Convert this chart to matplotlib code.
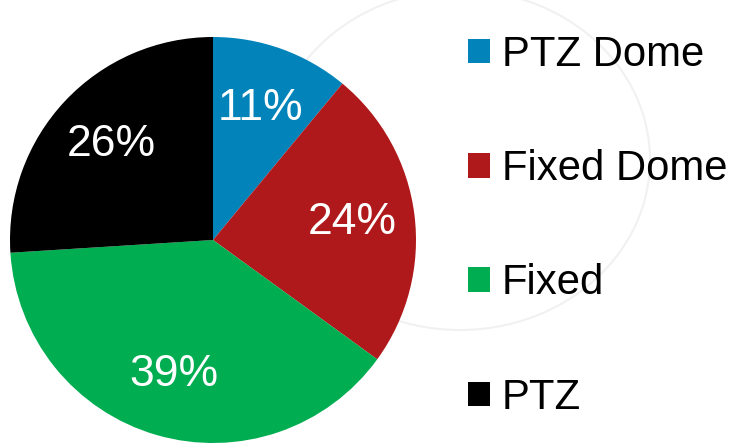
import matplotlib
matplotlib.use('Agg')
import matplotlib.pyplot as plt
import matplotlib.patches as mpatches

plt.rcParams['font.family'] = ['Liberation Sans', 'DejaVu Sans']

# Data
categories = ['PTZ Dome', 'Fixed Dome', 'Fixed', 'PTZ']
shares = [11, 24, 39, 26]
colors = ['#0283BA', '#B0191B', '#00AD50', '#000000']

W, H = 735, 443
fig = plt.figure(figsize=(W / 100, H / 100), dpi=100)

# faint decorative circle behind everything
ring = mpatches.Ellipse((460 / W, 1 - 160 / H), 380 / W, 340 / H,
                        transform=fig.transFigure, fill=False,
                        edgecolor='#f1f1f1', linewidth=1.5, zorder=-5)
fig.patches.append(ring)

ax = fig.add_axes([10 / W, 0, 406 / W, 406 / H])
ax.set_zorder(2)
wedges, texts, autotexts = ax.pie(
    shares, colors=colors, startangle=90, counterclock=False,
    autopct='%d%%', pctdistance=0.69,
    wedgeprops=dict(linewidth=0),
    textprops=dict(color='white', fontsize=32))
ax.set_xlim(-1, 1)
ax.set_ylim(-1, 1)
ax.axis('off')

handles = [mpatches.Patch(facecolor=c, edgecolor='none') for c in colors]
fig.legend(handles, categories, loc='upper left',
           bbox_to_anchor=(468 / W, 1 - 35 / H),
           frameon=False, fontsize=30.2, borderpad=0, borderaxespad=0,
           handlelength=0.52, handleheight=0.52, handletextpad=0.28,
           labelspacing=1.77)

fig.savefig('out.png', dpi=100)
